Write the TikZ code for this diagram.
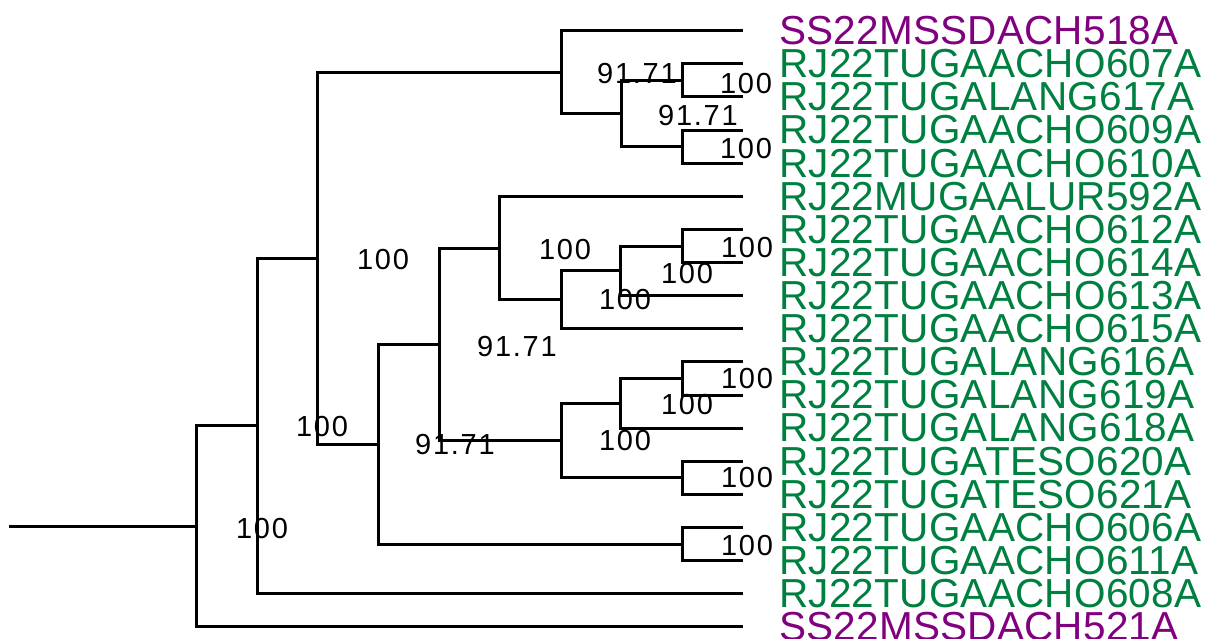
\documentclass[tikz,border=0pt]{standalone}
\usepackage{fontspec}
\setmainfont{Liberation Sans}
\newfontfamily\bsfont[LetterSpace=6]{Liberation Sans}
\newfontfamily\tipfont[LetterSpace=0.6]{Liberation Sans}
\definecolor{tipgreen}{RGB}{0,128,64}
\definecolor{tippurple}{RGB}{128,0,128}
\tikzset{
  branch/.style={line width=3pt, line join=miter, line cap=butt, black},
  tiplab/.style={anchor=base west, inner sep=0pt, font=\tipfont\fontsize{40.5}{40.5}\selectfont},
  grn/.style={tiplab, text=tipgreen},
  prp/.style={tiplab, text=tippurple},
  bs/.style={anchor=center, inner sep=0pt, text depth=0pt, font=\bsfont\fontsize{29}{29}\selectfont}
}
\begin{document}
\begin{tikzpicture}[x=1pt,y=-1pt]
\useasboundingbox (0,0) rectangle (1207,639);
% tips
\coordinate (t0) at (743,30.5);
\coordinate (t1) at (743,63.5);
\coordinate (t2) at (743,96.5);
\coordinate (t3) at (743,130.5);
\coordinate (t4) at (743,163.5);
\coordinate (t5) at (743,196.5);
\coordinate (t6) at (743,229.5);
\coordinate (t7) at (743,262.5);
\coordinate (t8) at (743,295.5);
\coordinate (t9) at (743,328.5);
\coordinate (t10) at (743,361.5);
\coordinate (t11) at (743,395.5);
\coordinate (t12) at (743,428.5);
\coordinate (t13) at (743,461.5);
\coordinate (t14) at (743,494.5);
\coordinate (t15) at (743,527.5);
\coordinate (t16) at (743,560.5);
\coordinate (t17) at (743,593.5);
\coordinate (t18) at (743,626.5);
% internal nodes
\coordinate (root) at (9,526.5);
\coordinate (R0) at (196.5,526.5);
\coordinate (N1) at (257.5,425.5);
\coordinate (N2) at (317.5,258.5);
\coordinate (N3) at (561.5,72.5);
\coordinate (N5) at (621.5,113.5);
\coordinate (N6) at (682.5,80.5);
\coordinate (N7) at (682.5,146.5);
\coordinate (N4) at (378.5,444.5);
\coordinate (N9) at (682.5,544.5);
\coordinate (N8) at (439.5,344.5);
\coordinate (N10) at (499.5,248.5);
\coordinate (N12) at (561.5,299.5);
\coordinate (N13) at (620.5,270.5);
\coordinate (N14) at (682.5,246.5);
\coordinate (N11) at (561.5,440.5);
\coordinate (N15) at (620.5,403.5);
\coordinate (N17) at (682.5,378.5);
\coordinate (N16) at (682.5,477.5);
% branches
\draw[branch] (root) -- (R0);
\draw[branch] (t18) -| (R0) |- (N1);
\draw[branch] (t17) -| (N1) |- (N2);
\draw[branch] (N3) -| (N2) |- (N4);
\draw[branch] (t0) -| (N3) |- (N5);
\draw[branch] (N6) -| (N5) |- (N7);
\draw[branch] (t1) -| (N6) |- (t2);
\draw[branch] (t3) -| (N7) |- (t4);
\draw[branch] (N8) -| (N4) |- (N9);
\draw[branch] (t15) -| (N9) |- (t16);
\draw[branch] (N10) -| (N8) |- (N11);
\draw[branch] (t5) -| (N10) |- (N12);
\draw[branch] (N13) -| (N12) |- (t9);
\draw[branch] (N14) -| (N13) |- (t8);
\draw[branch] (t6) -| (N14) |- (t7);
\draw[branch] (N15) -| (N11) |- (N16);
\draw[branch] (N17) -| (N15) |- (t12);
\draw[branch] (t10) -| (N17) |- (t11);
\draw[branch] (t13) -| (N16) |- (t14);
% tip labels
\node[prp] (l0) at (779,44.7) {SS22MSSDACH518A};
\node[grn] (l1) at (779,77.8) {RJ22TUGAACHO607A};
\node[grn] (l2) at (779,110.9) {RJ22TUGALANG617A};
\node[grn] (l3) at (779,144.0) {RJ22TUGAACHO609A};
\node[grn] (l4) at (779,177.1) {RJ22TUGAACHO610A};
\node[grn] (l5) at (779,210.2) {RJ22MUGAALUR592A};
\node[grn] (l6) at (779,243.3) {RJ22TUGAACHO612A};
\node[grn] (l7) at (779,276.4) {RJ22TUGAACHO614A};
\node[grn] (l8) at (779,309.5) {RJ22TUGAACHO613A};
\node[grn] (l9) at (779,342.6) {RJ22TUGAACHO615A};
\node[grn] (l10) at (779,375.7) {RJ22TUGALANG616A};
\node[grn] (l11) at (779,408.8) {RJ22TUGALANG619A};
\node[grn] (l12) at (779,441.9) {RJ22TUGALANG618A};
\node[grn] (l13) at (779,475.0) {RJ22TUGATESO620A};
\node[grn] (l14) at (779,508.1) {RJ22TUGATESO621A};
\node[grn] (l15) at (779,541.2) {RJ22TUGAACHO606A};
\node[grn] (l16) at (779,574.3) {RJ22TUGAACHO611A};
\node[grn] (l17) at (779,607.4) {RJ22TUGAACHO608A};
\node[prp] (l18) at (779,640.5) {SS22MSSDACH521A};
% bootstrap labels
\node[bs] (b1) at (637,73) {91.71};
\node[bs] (b2) at (746,83) {100};
\node[bs] (b3) at (698,115) {91.71};
\node[bs] (b4) at (746,148) {100};
\node[bs] (b5) at (565,249) {100};
\node[bs] (b6) at (747,247) {100};
\node[bs] (b7) at (687,273) {100};
\node[bs] (b8) at (625,299) {100};
\node[bs] (b9) at (383,259) {100};
\node[bs] (b10) at (517,346) {91.71};
\node[bs] (b11) at (747,378) {100};
\node[bs] (b12) at (687,404) {100};
\node[bs] (b13) at (625,440) {100};
\node[bs] (b14) at (455,444) {91.71};
\node[bs] (b15) at (747,477) {100};
\node[bs] (b16) at (322,426) {100};
\node[bs] (b17) at (747,545) {100};
\node[bs] (b18) at (262,528) {100};
\end{tikzpicture}
\end{document}
